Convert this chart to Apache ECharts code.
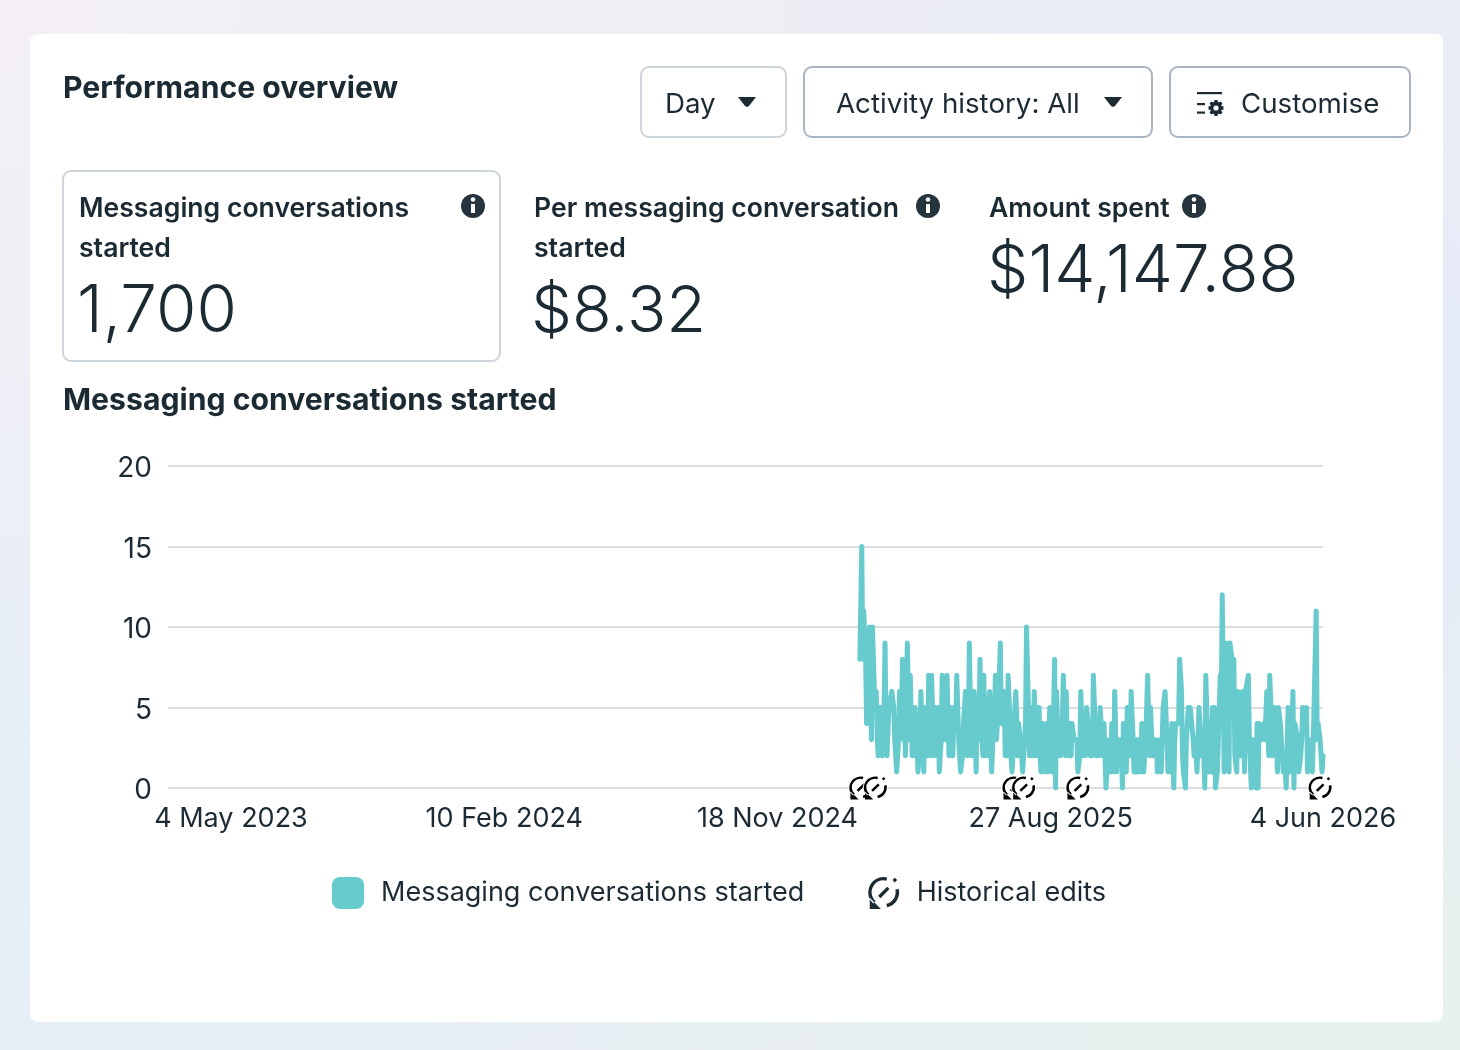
<!DOCTYPE html>
<html><head><meta charset="utf-8">
<style>
html,body{margin:0;padding:0;width:1460px;height:1050px;overflow:hidden;
background:radial-gradient(ellipse at 0% 0%,#f3eff5 0%,rgba(243,239,245,0) 55%),radial-gradient(ellipse at 100% 40%,#e4eaf8 0%,rgba(228,234,248,0) 55%),radial-gradient(ellipse at 100% 100%,#e7f1ee 0%,rgba(231,241,238,0) 55%),radial-gradient(ellipse at 0% 70%,#e4eff7 0%,rgba(228,239,247,0) 60%),#ebeef5;}
#c{width:1460px;height:1050px}
</style>
<script src="https://cdn.jsdelivr.net/npm/echarts@6/dist/echarts.min.js"></script>
</head><body><div id="c"></div>
<script>
const FONT='Inter';
const tickDates=['2023-05-04','2024-02-10','2024-11-18','2025-08-27','2026-06-04'];
const tickLabels=['4 May 2023','10 Feb 2024','18 Nov 2024','27 Aug 2025','4 Jun 2026'];
const axisStart='2023-02-28';
const axisEnd='2026-06-04';
const firstDay='2025-02-11';
const editDates=['2025-02-12','2025-02-27','2025-07-20','2025-07-30','2025-09-24','2026-06-01'];
const seriesName='Messaging conversations started';
const editName='Historical edits';
const valuesA=[8,8,15,8,11,11,8,4,7,6,10,10,3,10,10,6,5,6,3,2,5,4,5,2,4,5,9,4,2,2,5,5,5,6,6,5,3,3,1,1,3,6,6,4,8,3,6,2,5,9,9,3,7,7,2,4,2,5,5,3,1,1,3,6,6,2,1,4,5,3,2,7,7,2,7,7,3,2,5,5,2,5,1,1,3,7,7,3,5,3,7,7,2,3,5,4,2,5,5,4,7,7,3,2,1,1,2,4,4,6,6,2,3,9,9,2,4,5];
const valuesB=[6,4,1,5,3,4,8,5,3,2,7,2,5,2,3,5,6,3,1,1,4,5,7,3,3,5,7,9,4,5,4,6,2,4,2,7,7,4,2,1,1,3,5,6,6,2,4,4,4,2,1,1,3,4,10,10,5,2,5,2,3,2,6,6,2,5,3,5,2,1,1,4,4,1,1,4,1,1,5,5,1,4,5,8,0,6,6,2,4,2,3,4,7,7,2,6,3,3,2,4,2,4,4,3,3,3,3,1,1,2,6,6,2,4,3,2,5,5,5,3,2,4,2,7];
const valuesC=[7,7,2,2,4,2,5,5,3,2,4,4,0,0,2,3,2,1,4,2,1,6,6,1,3,2,3,3,2,0,4,4,2,1,5,3,5,2,6,6,3,1,2,1,3,1,3,2,1,4,4,1,1,3,5,7,7,2,5,5,2,3,3,3,3,1,1,2,3,1,3,5,5,6,6,3,1,1,3,1,4,4,0,3,4,4,4,4,8,8,6,2,1,1,0,3,4,5,4,5,5,5,3,2,3,2,1,3,5,5,3,2,3,2,0,7,7,3,1,4,2,1,5,3];
const valuesD=[5,0,0,1,1,5,7,5,12,12,1,6,3,9,9,1,9,9,8,5,8,2,2,1,6,6,2,3,2,6,6,1,6,6,6,7,3,3,0,3,3,1,3,0,4,0,4,4,3,3,3,4,3,3,6,6,2,7,7,4,2,2,5,5,3,1,5,5,4,4,4,1,2,1,0,0,5,5,1,2,2,6,0,4,4,4,3,1,1,2,3,5,5,4,4,5,1,1,3,3,3,1,3,3,3,11,3,4,4,3,2,1,2];
const TXT='#1c2b33',TEAL='#67cbce';
const ICON='path://M14.5 1.3A11 11 0 0 0 4.5 20.1L6.2 18.3A8.5 8.5 0 0 1 14 3.7ZM2 16L10 24L2 24ZM22.8 9.5A11 11 0 0 1 14.5 22.7L13.9 20.3A8.5 8.5 0 0 0 20.4 10.2ZM8 14.5L14.5 8L16.2 9.7L9.7 16.2ZM20 1.5L21.7 3.2L20 4.9L18.3 3.2Z';

const values=[...valuesA,...valuesB,...valuesC,...valuesD];
const ms=d=>Date.parse(d+'T00:00:00Z');
const t0=ms(firstDay);
const tickMs=tickDates.map(ms);
const lineData=values.map((v,i)=>[t0+i*86400000,v]);

function txt(x,y,text,size,weight,extra){return {type:'text',z:5,style:Object.assign({x,y,text,fill:TXT,fontFamily:FONT,fontSize:size,fontWeight:weight||400,textVerticalAlign:'middle'},extra||{})};}
function box(x,y,w,h,stroke){return {type:'rect',z:2,shape:{x,y,width:w,height:h,r:8},style:{fill:'#fff',stroke,lineWidth:2}};}
function caret(cx,cy){return {type:'polygon',z:5,shape:{points:[[cx-9,cy-5],[cx+9,cy-5],[cx+2,cy+4],[cx,cy+5],[cx-2,cy+4]]},style:{fill:TXT}};}
function info(cx,cy){return {type:'group',z:5,children:[
 {type:'circle',z:5,shape:{cx,cy,r:12},style:{fill:'#26343d'}},
 {type:'rect',z:6,shape:{x:cx-2,y:cy-2,width:4,height:9},style:{fill:'#fff'}},
 {type:'circle',z:6,shape:{cx,cy:cy-6.5,r:2.3},style:{fill:'#fff'}}]};}
const gearPts=[[1214.5,100],[1217.5,100],[1218,102.5],[1220.5,101.5],[1222.5,103.5],[1221,105.7],[1223.5,106.5],[1223.5,109.5],[1221,110.3],[1222.5,112.5],[1220.5,114.5],[1218,113.5],[1217.5,116],[1214.5,116],[1214,113.5],[1211.5,114.5],[1209.5,112.5],[1211,110.3],[1208.5,109.5],[1208.5,106.5],[1211,105.7],[1209.5,103.5],[1211.5,101.5],[1214,102.5]];
function bar(x,y,w){return {type:'rect',z:5,shape:{x,y,width:w,height:2.2},style:{fill:TXT}};}

const graphic=[
 {type:'rect',z:1,shape:{x:30,y:34,width:1413,height:988,r:8},style:{fill:'#fff'}},
 txt(63,89,'Performance overview',30.2,700),
 box(641,67,145,70,'#ced4db'),txt(665,105,'Day',27.7,400),caret(747,102),
 box(804,67,348,70,'#a9b5c2'),txt(836,105,'Activity history: All',27.7,400),caret(1113,102),
 box(1170,67,240,70,'#a9b5c2'),txt(1241,105,'Customise',27.7,400),
 bar(1197,92,25),bar(1197,103,8),bar(1197,111.5,8),
 {type:'polygon',z:5,shape:{points:gearPts},style:{fill:TXT}},
 {type:'circle',z:6,shape:{cx:1216,cy:108,r:2.6},style:{fill:'#fff'}},
 box(63,171,437,190,'#ced4db'),
 txt(79,209,'Messaging conversations',26.6,600),txt(79,249,'started',26.6,600),txt(77,312,'1,700',65.5,300),info(473,206),
 txt(534,209,'Per messaging conversation',26.6,600),txt(534,249,'started',26.6,600),txt(531,312,'$8.32',65,300),info(928,206),
 txt(989,209,'Amount spent',26.6,600),info(1194,206),txt(987,272,'$14,147.88',65.5,300),
 txt(63,401,seriesName,30.2,700)
];

const editSeries=editDates.flatMap(d=>[
 {name:editName+' halo',type:'scatter',data:[[ms(d),0]],symbol:'circle',symbolSize:25,clip:false,z:4,silent:true,
  itemStyle:{color:'#fff',opacity:1}},
 {name:editName,type:'scatter',data:[[ms(d),0]],symbol:ICON,symbolSize:23,clip:false,z:4,
  itemStyle:{color:'#000',opacity:1}}
]);

const chart=echarts.init(document.getElementById('c'),null,{renderer:'canvas'});
chart.setOption({
 animation:false,backgroundColor:'transparent',
 textStyle:{fontFamily:FONT},
 graphic,
 grid:{left:168,right:137,top:466,bottom:262,containLabel:false},
 legend:{left:327,top:872,itemWidth:32,itemHeight:32,itemGap:64,selectedMode:false,
  textStyle:{fontFamily:FONT,fontSize:27,color:TXT,padding:[0,0,0,12]},
  data:[{name:seriesName,icon:'roundRect',itemStyle:{color:TEAL}},{name:editName,icon:ICON,itemStyle:{color:TXT}}]},
 xAxis:{type:'value',z:2,min:ms(axisStart),max:ms(axisEnd),scale:true,
  axisLine:{show:false},axisTick:{show:false},splitLine:{show:false},
  axisLabel:{customValues:tickMs,hideOverlap:false,showMinLabel:true,showMaxLabel:true,margin:17,
   fontFamily:FONT,fontSize:27,color:TXT,
   formatter:v=>tickLabels[tickMs.indexOf(+v)]||''}},
 yAxis:{type:'value',z:2,min:0,max:20,interval:5,
  axisLine:{show:false},axisTick:{show:false},
  splitLine:{show:true,lineStyle:{color:'#dadde1',width:2}},
  axisLabel:{margin:16,color:TXT,formatter:'{v|{value}}',
   rich:{v:{fontFamily:FONT,fontSize:28,color:TXT,padding:[6,0,0,0]}}}},
 series:[
  {name:seriesName,type:'line',data:lineData,showSymbol:false,symbol:'none',clip:false,z:3,
   lineStyle:{color:TEAL,width:5,cap:'round',join:'round'},itemStyle:{color:TEAL}},
  ...editSeries
 ]
});
</script></body></html>
